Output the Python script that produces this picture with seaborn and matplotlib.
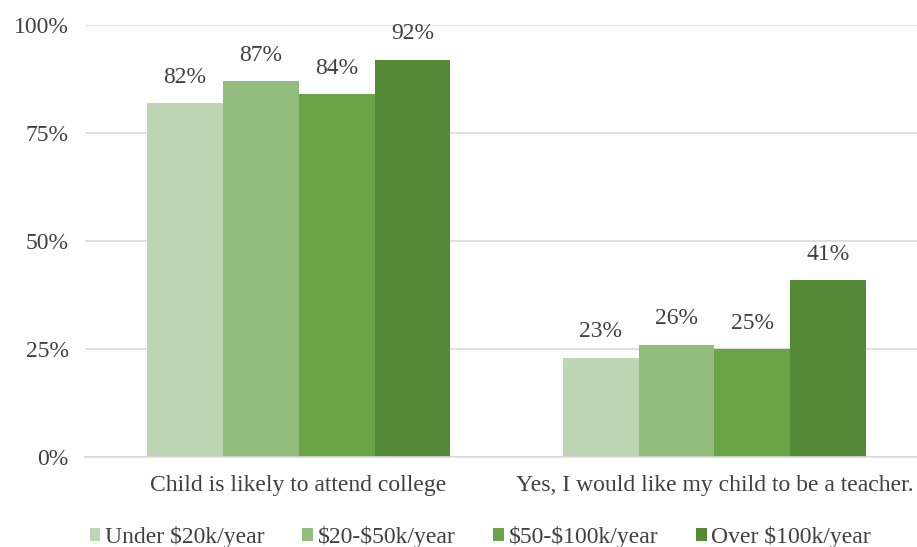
import numpy as np
import pandas as pd
import matplotlib.pyplot as plt
import seaborn as sns

sns.set_style("white")
plt.rcParams['font.family'] = ['Liberation Serif', 'DejaVu Serif']

# Data
questions = ['Child is likely to attend college',
             'Yes, I would like my child to be a teacher.']
incomes = ['Under $20k/year', '$20-$50k/year', '$50-$100k/year', 'Over $100k/year']
college = [82, 87, 84, 92]
teacher = [23, 26, 25, 41]
colors = ['#bdd7b4', '#93bd7c', '#6aa446', '#548936']

df = pd.DataFrame({
    'question': [questions[0]] * 4 + [questions[1]] * 4,
    'income': incomes * 2,
    'value': college + teacher,
})

text_color = '#404040'
fig = plt.figure(figsize=(9.17, 5.47), dpi=100)
ax = fig.add_axes([0.093, 0.1645, 0.907, 0.7895])

sns.barplot(data=df, x='question', y='value', hue='income', hue_order=incomes,
            palette=colors, width=0.73, gap=0, saturation=1, linewidth=0,
            ax=ax, legend=True)

ax.set_ylim(0, 100)
ax.set_xlim(-0.513, 1.487)
ax.set_yticks([0, 25, 50, 75, 100])
ax.set_yticklabels([f'{t}%' for t in [0, 25, 50, 75, 100]])
ax.yaxis.grid(True, color='#d9d9d9', linewidth=1.2)
ax.set_axisbelow(True)
ax.set_xlabel('')
ax.set_ylabel('')
for s in ['top', 'right', 'left']:
    ax.spines[s].set_visible(False)
ax.spines['bottom'].set_color('#d9d9d9')
ax.spines['bottom'].set_linewidth(1.2)
ax.tick_params(axis='y', length=0, labelsize=17, colors=text_color, pad=12)
ax.tick_params(axis='x', length=0, labelsize=17, colors=text_color, pad=13)

for cont in ax.containers:
    ax.bar_label(cont, labels=[f'{v:.0f}%' for v in cont.datavalues],
                 padding=11, fontsize=17, color=text_color)

handles, labels = ax.get_legend_handles_labels()
labels = [l.replace('$', r'\$') for l in labels]
ax.legend(handles, labels, loc='lower center', bbox_to_anchor=(0.475, -0.26),
          ncol=4, frameon=False, fontsize=17, handlelength=0.45, handleheight=0.45,
          handletextpad=0.2, columnspacing=1.6, labelcolor=text_color)

plt.savefig('out.png', dpi=100)
